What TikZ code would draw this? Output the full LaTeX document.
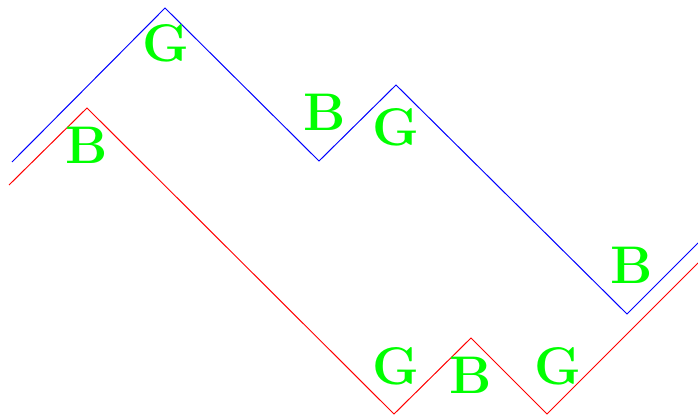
\documentclass[tikz,border=0pt]{standalone}
\begin{document}
\begin{tikzpicture}[x=1pt,y=-1pt,
  lbl/.style={text=green, font=\fontsize{53}{60}\selectfont\bfseries, inner sep=0pt, anchor=base},
  bl/.style={draw=blue, line width=1pt},
  rl/.style={draw=red, line width=1pt}]
\useasboundingbox (0,0) rectangle (698,417);
\coordinate (b0) at (12,162);
\coordinate (b1) at (165,8);
\coordinate (b2) at (319,161);
\coordinate (b3) at (396,85);
\coordinate (b4) at (627,314);
\coordinate (b5) at (698,243);
\coordinate (r0) at (9,185);
\coordinate (r1) at (87,108);
\coordinate (r2) at (394,414);
\coordinate (r3) at (471,338);
\coordinate (r4) at (547,414);
\coordinate (r5) at (698,263);
\draw[bl] (b0) -- (b1) -- (b2) -- (b3) -- (b4) -- (b5);
\draw[rl] (r0) -- (r1) -- (r2) -- (r3) -- (r4) -- (r5);
\node[lbl] (g1) at (166,62) {G};
\node[lbl] (l1) at (87,163) {B};
\node[lbl] (l2) at (325,131) {B};
\node[lbl] (g2) at (396,145) {G};
\node[lbl] (l3) at (632,283) {B};
\node[lbl] (g3) at (396,384) {G};
\node[lbl] (l4) at (471,393) {B};
\node[lbl] (g4) at (558,384) {G};
\end{tikzpicture}
\end{document}
